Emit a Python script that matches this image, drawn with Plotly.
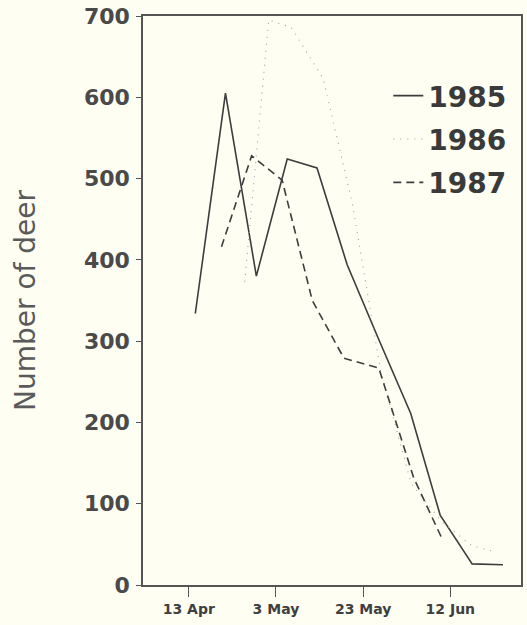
import plotly.graph_objects as go

# ---- data ----
dates_1985 = ["1985-04-14T12:00", "1985-04-21T10:00", "1985-04-28T12:00", "1985-05-05T14:00",
              "1985-05-12T10:00", "1985-05-19T08:00", "1985-05-26T14:00", "1985-06-02T22:00",
              "1985-06-09T16:00", "1985-06-17T00:00", "1985-06-24T02:00"]
deer_1985 = [334, 605, 380, 524, 513, 394, 302, 211, 86, 26, 25]

dates_1986 = ["1985-04-25T20:00", "1985-05-01T08:00", "1985-05-06T12:00", "1985-05-13T20:00",
              "1985-05-20T12:00", "1985-05-27T00:00", "1985-06-03T00:00", "1985-06-10T00:00",
              "1985-06-17T00:00", "1985-06-21T12:00"]
deer_1986 = [373, 695, 686, 623, 470, 264, 125, 78, 48, 42]

dates_1987 = ["1985-04-20T12:00", "1985-04-27T10:00", "1985-05-04T10:00", "1985-05-11T08:00",
              "1985-05-18T14:00", "1985-05-26T14:00", "1985-06-03T14:00", "1985-06-09T22:00"]
deer_1987 = [416, 528, 498, 350, 279, 267, 132, 59]

tick_dates = ["1985-04-13", "1985-05-03", "1985-05-23", "1985-06-12"]
tick_labels = ["13 Apr", "3 May", "23 May", "12 Jun"]
y_ticks = [0, 100, 200, 300, 400, 500, 600, 700]

BG = "#fefef3"
INK = "#3d3d3d"
TXT = "#505050"
FONT = "DejaVu Sans"

fig = go.Figure()
fig.add_trace(go.Scatter(x=dates_1985, y=deer_1985, mode="lines", name="1985",
                         legendgroup="a",
                         line=dict(color=INK, width=1.6, dash="solid")))
fig.add_trace(go.Scatter(x=dates_1986, y=deer_1986, mode="lines", name="1986",
                         legendgroup="b",
                         line=dict(color="#a0a0a0", width=1.1, dash="1px,6px")))
fig.add_trace(go.Scatter(x=dates_1987, y=deer_1987, mode="lines", name="1987",
                         legendgroup="c",
                         line=dict(color=INK, width=1.6, dash="8px,5px")))

fig.update_layout(
    width=527, height=625,
    margin=dict(l=143, r=4, t=16, b=40),
    paper_bgcolor=BG, plot_bgcolor=BG,
    font=dict(family=FONT, color=TXT),
    showlegend=True,
    legend=dict(x=0.649, y=0.9035, xanchor="left", yanchor="top",
                bgcolor="rgba(0,0,0,0)",
                font=dict(family=FONT, size=28, color="#3a3a3a", weight="bold"),
                tracegroupgap=4, itemwidth=30),
)
fig.update_xaxes(
    range=["1985-04-02T12:00", "1985-06-28T05:00"],
    tickvals=tick_dates, ticktext=tick_labels,
    ticks="outside", ticklen=10, tickwidth=1.3, tickcolor="#555",
    showline=True, linecolor="#555", linewidth=1.5, mirror=True,
    showgrid=False, zeroline=False,
    tickfont=dict(family=FONT, size=14, color="#3f3f3f", weight="bold"),
)
fig.update_yaxes(
    range=[0, 700], tickvals=y_ticks,
    ticks="outside", ticklen=5, tickwidth=1.3, tickcolor="#555",
    showline=True, linecolor="#555", linewidth=1.5, mirror=True,
    showgrid=False, zeroline=False, ticklabelstandoff=2,
    tickfont=dict(family=FONT, size=22, color="#4a4a4a", weight="bold"),
    title=dict(text="Number of deer", standoff=40,
               font=dict(family=FONT, size=28, color="#5a5a5a")),
)

fig.write_html(
    "out.html",
    config={"displayModeBar": False},
    post_script="document.body.style.margin='0';document.body.style.background='%s';" % BG,
)
